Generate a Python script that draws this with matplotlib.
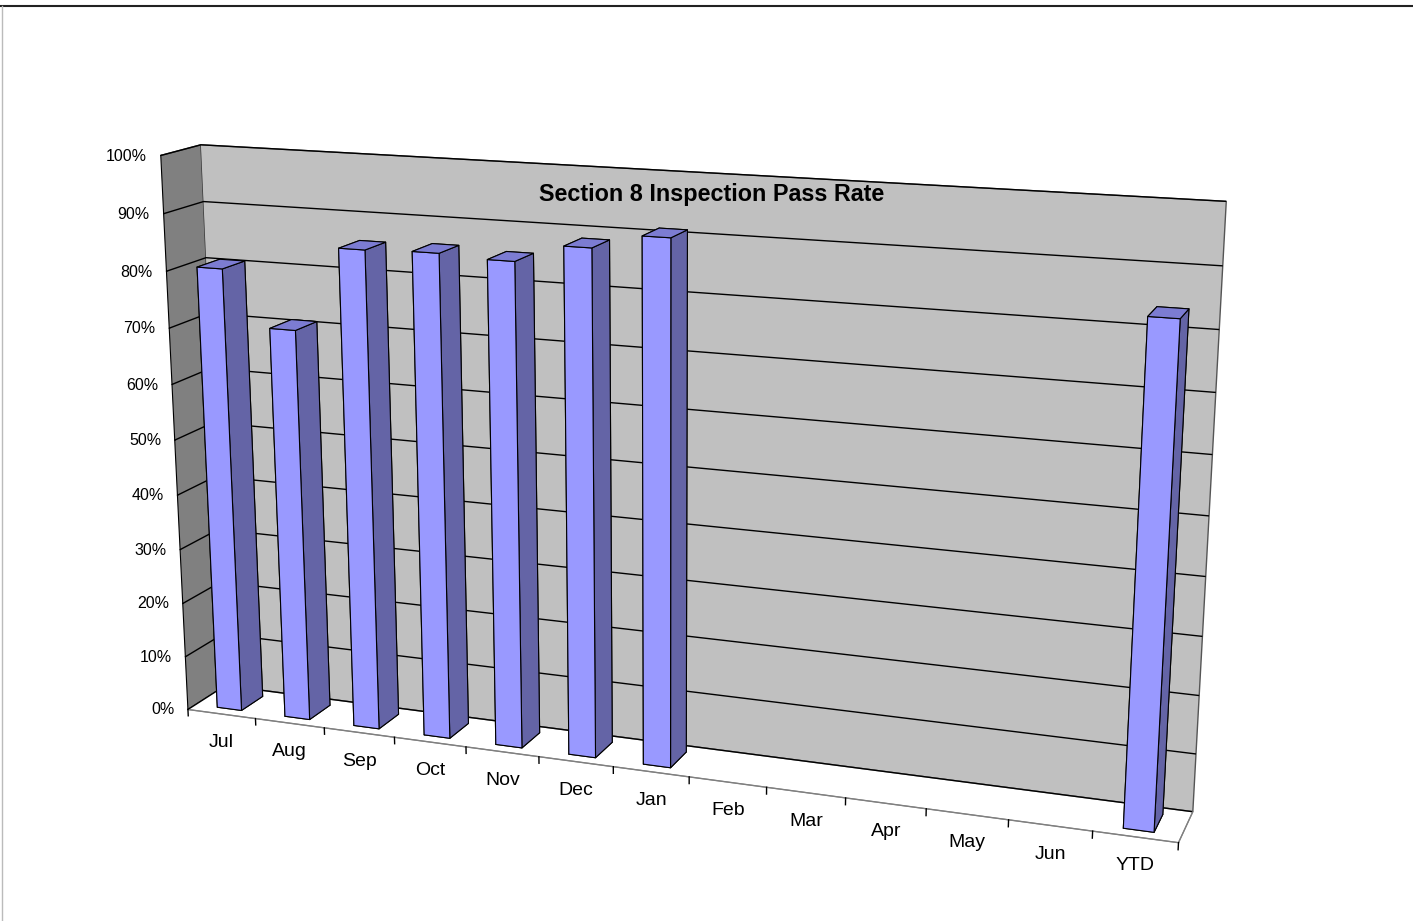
import numpy as np
import matplotlib
matplotlib.use("Agg")
import matplotlib.pyplot as plt
from matplotlib.transforms import ScaledTranslation
from matplotlib.lines import Line2D
from mpl_toolkits.mplot3d import Axes3D  # noqa: F401

# ---------------- data ----------------
categories = ["Jul", "Aug", "Sep", "Oct", "Nov", "Dec", "Jan",
              "Feb", "Mar", "Apr", "May", "Jun", "YTD"]
pass_rate = [80.5, 70.7, 85.5, 85.8, 85.3, 88.4, 90.9,
             np.nan, np.nan, np.nan, np.nan, np.nan, 83.5]
z_ticks = [0, 10, 20, 30, 40, 50, 60, 70, 80, 90, 100]
z_tick_labels = ["0%", "10%", "20%", "30%", "40%", "50%", "60%",
                 "70%", "80%", "90%", "100%"]
title = "Section 8 Inspection Pass Rate"

# ---------------- style ----------------
plt.rcParams["font.family"] = ["Liberation Sans", "DejaVu Sans"]

W, H = 1413, 921
fig = plt.figure(figsize=(W / 100, H / 100), dpi=100, facecolor="white")
ax = fig.add_axes([-54 / W, -28 / H, 1.0, 1.0], projection="3d")
ax.set_facecolor("white")

ncat = len(categories)
ax.set_xlim(-0.5, ncat - 0.5)
ax.set_ylim(0, 1)
ax.set_zlim(0, 100)
ax.set_box_aspect((13.01, 1.0, 7.32), zoom=1.295)
ax.view_init(elev=15.1, azim=-69.9)
ax.set_proj_type("persp", focal_length=0.54)

# walls
ax.xaxis.set_pane_color("#808080")
ax.yaxis.set_pane_color("#C0C0C0")
ax.zaxis.set_pane_color("white")
ax.xaxis.pane.set_edgecolor("#333333")
ax.yaxis.pane.set_edgecolor("#555555")
ax.zaxis.pane.set_edgecolor("#808080")

# grid: only horizontal lines on walls
ax.grid(True)
ax.xaxis._axinfo["grid"].update(color=(0, 0, 0, 0), linewidth=0)
ax.yaxis._axinfo["grid"].update(color=(0, 0, 0, 0), linewidth=0)
ax.zaxis._axinfo["grid"].update(color="black", linewidth=1.0)

# ticks
ax.set_zticks(z_ticks)
ax.set_zticklabels(z_tick_labels, ha="right", va="center_baseline")
ax.set_xticks([])
ax.set_yticks([])
ax.zaxis.set_ticks_position("lower")
ax.zaxis._axinfo["tick"].update(inward_factor=0.0, outward_factor=0.12)
ax.tick_params(axis="z", labelsize=11.5, pad=-3, colors="black")
ax.xaxis.line.set_color("#808080")
ax.yaxis.line.set_color("#808080")
ax.zaxis.line.set_color("black")
for axis in (ax.xaxis, ax.yaxis, ax.zaxis):
    axis.label.set_visible(False)
    axis.offsetText.set_visible(False)

# category boundary tick marks on the floor's front edge
for b in np.arange(ncat + 1) - 0.5:
    ln, = ax.plot([b, b], [0, 0], [0, -1.2], color="black", lw=1)
    ln.set_clip_on(False)

# bars
xs = np.array([i for i, v in enumerate(pass_rate) if not np.isnan(v)], dtype=float)
hs = np.array([v for v in pass_rate if not np.isnan(v)])
bw, bd = 0.36, 0.58
y0 = (1 - bd) / 2
face_cols = ["#9999FF", "#7C7CD2", "#9999FF", "#9999FF", "#9999FF", "#6464A6"]
colors = face_cols * len(xs)
bars = ax.bar3d(xs - bw / 2, np.full_like(xs, y0), np.zeros_like(xs), bw, bd, hs,
                color=colors, edgecolor="black", linewidth=0.8, shade=False)
bars.set_clip_on(False)

# category labels
off = ScaledTranslation(0, -14.5 / 72, fig.dpi_scale_trans)
for i, c in enumerate(categories):
    ax.text(i, 0, 0, c, ha="center", va="top", fontsize=14,
            transform=ax.transData + off)

fig.text(712 / W, 1 - 195 / H, title, ha="center", va="center",
         fontsize=16.8, fontweight="bold")

# outer border
fig.add_artist(Line2D([0, 1], [1 - 6.5 / H, 1 - 6.5 / H], color="#222222", lw=1.5))
fig.add_artist(Line2D([1.5 / W, 1.5 / W], [0, 1 - 6.5 / H], color="#BBBBBB", lw=1))

fig.savefig("out.png", dpi=100)
